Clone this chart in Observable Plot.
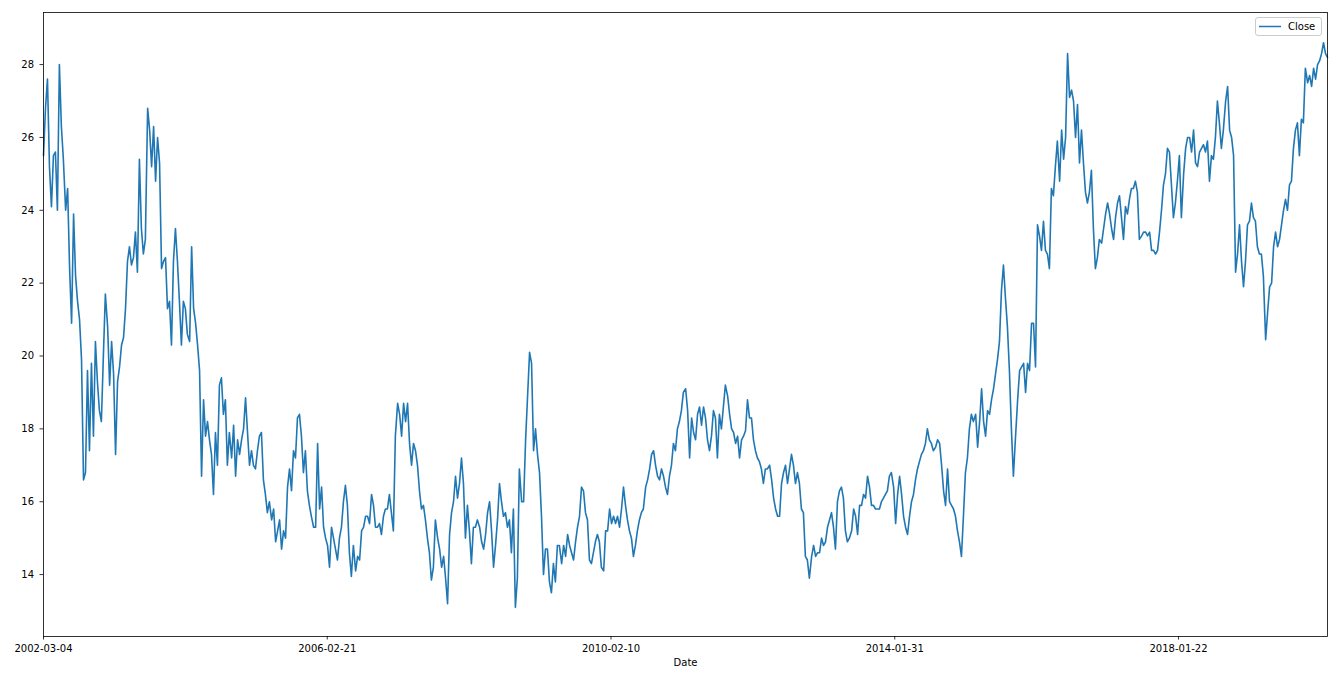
<!DOCTYPE html>
<html>
<head>
<meta charset="utf-8">
<script src="https://cdn.jsdelivr.net/npm/d3@7"></script>
<script src="https://cdn.jsdelivr.net/npm/@observablehq/plot@0.6"></script>
<style>
  html, body { margin: 0; padding: 0; background: #fff; }
  #wrap { position: relative; width: 1338px; height: 678px; }
  #legend {
    position: absolute; left: 1255px; top: 17px; width: 67px; height: 19px;
    box-sizing: border-box; border: 1px solid #cccccc; border-radius: 3px;
    background: rgba(255,255,255,0.8);
    font-family: "DejaVu Sans", sans-serif; font-size: 10px; color: #000;
  }
  #legend svg { position: absolute; left: 2px; top: 7px; }
  #legend span { position: absolute; left: 32px; top: 2px; line-height: 13px; }
</style>
</head>
<body>
<div id="wrap"></div>
<script>
// ---- data ----
const lastRow = 4525;                      // last row index of the series
const tickRows = [0, 1000, 2000, 3000, 4000];
const tickLabels = ["2002-03-04", "2006-02-21", "2010-02-10", "2014-01-31", "2018-01-22"];
const yTicks = [14, 16, 18, 20, 22, 24, 26, 28];
const seriesName = "Close";
// Close values, evenly spaced over rows 0..lastRow
const closeValues = [
  25.5, 26.8, 27.6, 25.2, 24.1, 25.5, 25.6, 24.0, 28.0, 26.3,
  25.4, 24.0, 24.6, 22.4, 20.9, 23.9, 22.2, 21.5, 21.0, 19.9,
  16.6, 16.8, 19.6, 17.4, 19.8, 17.8, 20.4, 19.3, 18.5, 18.2,
  20.0, 21.7, 20.8, 19.2, 20.4, 19.5, 17.3, 19.3, 19.7, 20.3,
  20.5, 21.3, 22.6, 23.0, 22.5, 22.7, 23.4, 22.3, 25.4, 23.5,
  22.8, 23.2, 26.8, 26.2, 25.2, 26.3, 24.8, 26.0, 25.3, 22.4,
  22.6, 22.7, 21.3, 21.5, 20.3, 22.6, 23.5, 22.6, 21.5, 20.3,
  21.5, 21.3, 20.6, 20.4, 23.0, 21.3, 20.9, 20.3, 19.6, 16.7,
  18.8, 17.8, 18.2, 17.7, 17.3, 16.2, 17.9, 17.0, 19.2, 19.4,
  18.4, 18.8, 17.0, 17.9, 17.2, 18.1, 16.7, 17.7, 17.3, 17.7,
  18.0, 18.85, 17.9, 17.0, 17.4, 17.0, 16.9, 17.4, 17.8, 17.9,
  16.6, 16.2, 15.7, 16.0, 15.5, 15.8, 14.9, 15.2, 15.5, 14.7,
  15.2, 15.0, 16.4, 16.9, 16.3, 17.4, 17.2, 18.3, 18.4, 17.8,
  16.8, 17.4, 16.3, 15.9, 15.6, 15.3, 15.3, 17.6, 15.8, 16.4,
  15.3, 15.0, 14.8, 14.2, 15.3, 15.0, 14.7, 14.4, 15.0, 15.3,
  16.0, 16.45, 15.9, 14.6, 13.95, 14.8, 14.1, 14.5, 14.4, 15.2,
  15.3, 15.6, 15.6, 15.4, 16.2, 15.9, 15.3, 15.3, 15.4, 15.1,
  15.6, 15.8, 15.8, 16.2, 15.7, 15.2, 17.8, 18.7, 18.4, 17.8,
  18.7, 18.2, 18.7, 17.6, 17.0, 17.6, 17.4, 17.0, 16.3, 15.8,
  15.9, 15.5, 15.0, 14.6, 13.85, 14.2, 15.5, 15.0, 14.7, 14.2,
  14.5, 13.9, 13.2, 15.1, 15.7, 16.0, 16.7, 16.1, 16.5, 17.2,
  16.5, 15.0, 15.9, 15.2, 14.3, 15.3, 15.3, 15.5, 15.3, 14.9,
  14.7, 15.1, 15.7, 16.0, 15.2, 14.2, 14.8, 15.5, 16.5, 16.0,
  15.6, 15.7, 15.3, 15.5, 14.6, 15.8, 13.1, 13.9, 16.9, 16.0,
  16.0, 17.7, 18.9, 20.1, 19.8, 17.4, 18.0, 17.3, 16.8, 15.6,
  14.0, 14.7, 14.7, 13.8, 13.5, 14.3, 13.8, 14.8, 14.8, 14.3,
  14.8, 14.5, 15.1, 14.8, 14.6, 14.4, 14.9, 15.3, 15.6, 16.4,
  16.3, 15.7, 15.5, 14.4, 14.3, 14.6, 14.9, 15.1, 14.9, 14.2,
  14.1, 15.2, 15.2, 15.8, 15.4, 15.6, 15.4, 15.6, 15.3, 15.8,
  16.4, 15.9, 15.5, 15.2, 15.0, 14.5, 14.8, 15.2, 15.5, 15.7,
  15.8, 16.4, 16.6, 16.9, 17.3, 17.4, 17.0, 16.7, 16.6, 16.9,
  16.7, 16.4, 16.2, 16.7, 17.0, 17.6, 17.4, 18.0, 18.2, 18.5,
  19.0, 19.1, 18.5, 17.2, 18.3, 17.9, 17.7, 18.4, 18.6, 18.1,
  18.6, 18.3, 17.7, 17.4, 17.8, 18.5, 18.3, 17.2, 18.4, 18.0,
  18.6, 19.2, 18.9, 18.4, 18.0, 17.9, 17.6, 17.8, 17.2, 17.7,
  17.8, 17.95, 18.8, 18.3, 18.3, 17.7, 17.4, 17.2, 17.1, 16.9,
  16.5, 16.9, 16.9, 17.0, 16.6, 16.1, 15.8, 15.6, 15.6, 16.5,
  16.8, 17.0, 16.5, 16.9, 17.3, 17.0, 16.5, 16.8, 16.5, 15.8,
  15.7, 14.5, 14.4, 13.9, 14.5, 14.8, 14.5, 14.6, 14.6, 15.0,
  14.8, 14.9, 15.3, 15.5, 15.7, 15.3, 14.7, 16.0, 16.3, 16.4,
  16.1, 15.2, 14.9, 15.0, 15.2, 15.8, 15.6, 15.1, 15.9, 15.9,
  16.2, 16.1, 16.7, 16.4, 15.9, 15.9, 15.8, 15.8, 15.8, 16.0,
  16.1, 16.2, 16.3, 16.7, 16.8, 16.4, 15.4, 16.2, 16.7, 16.2,
  15.6, 15.3, 15.1, 15.6, 16.0, 16.2, 16.6, 16.9, 17.1, 17.3,
  17.4, 17.6, 18.0, 17.7, 17.6, 17.4, 17.5, 17.7, 17.6, 17.0,
  16.3, 15.9, 16.9, 16.0, 15.9, 15.8, 15.6, 15.2, 14.9, 14.5,
  15.6, 16.8, 17.2, 18.0, 18.4, 18.2, 18.4, 17.5, 18.2, 19.1,
  18.2, 17.8, 18.5, 18.4, 18.8, 19.1, 19.5, 19.9, 20.4, 21.8,
  22.5, 21.6, 20.8, 19.6, 18.0, 16.7, 17.7, 18.8, 19.6, 19.7,
  19.8, 19.0, 19.8, 19.6, 20.9, 20.9, 19.7, 23.6, 23.3, 22.9,
  23.7, 22.9, 22.8, 22.4, 24.6, 24.4, 25.2, 25.9, 24.8, 26.2,
  25.4, 26.0, 28.3, 27.1, 27.3, 27.0, 26.0, 26.9, 25.3, 26.2,
  25.3, 24.5, 24.2, 24.5, 25.1, 23.5, 22.4, 22.7, 23.2, 23.1,
  23.5, 23.9, 24.2, 23.9, 23.5, 23.2, 23.8, 24.2, 24.4, 23.8,
  23.2, 24.1, 23.9, 24.3, 24.6, 24.6, 24.8, 24.5, 23.2, 23.3,
  23.4, 23.4, 23.3, 23.4, 22.9, 22.9, 22.8, 22.9, 23.4, 24.0,
  24.7, 25.0, 25.7, 25.6, 24.7, 23.8, 24.2, 24.8, 25.5, 23.8,
  25.0, 25.7, 26.0, 26.0, 25.6, 26.2, 25.3, 25.2, 25.6, 25.7,
  25.8, 25.6, 25.9, 24.8, 25.5, 25.4, 26.0, 27.0, 26.4, 25.7,
  26.2, 27.0, 27.4, 26.2, 26.0, 25.5, 22.3, 22.8, 23.6, 22.6,
  21.9, 22.6, 23.6, 23.7, 24.2, 23.8, 23.7, 23.0, 22.8, 22.8,
  22.2, 20.45, 21.2, 21.9, 22.0, 23.0, 23.4, 23.0, 23.2, 23.6,
  24.0, 24.3, 24.0, 24.7, 24.8, 25.7, 26.2, 26.4, 25.5, 26.5,
  26.4, 27.9, 27.5, 27.7, 27.4, 27.9, 27.6, 28.0, 28.1, 28.3,
  28.6, 28.3, 28.2
];

// table built from the arrays
const n = closeValues.length;
const rows = closeValues.map((v, k) => ({row: Math.round(k * lastRow / (n - 1)), close: v}));
const labelOf = new Map(tickRows.map((r, i) => [r, tickLabels[i]]));

const chart = Plot.plot({
  width: 1338,
  height: 678,
  marginLeft: 43,
  marginRight: 11,
  marginTop: 12,
  marginBottom: 42,
  style: {fontFamily: "DejaVu Sans, sans-serif", fontSize: "10px", color: "#000", background: "#fff"},
  x: {type: "linear", domain: [0, lastRow]},
  y: {domain: [12.30, 29.43]},
  marks: [
    Plot.line(rows, {x: "row", y: "close", stroke: "#1f77b4", strokeWidth: 1.6}),
    Plot.frame({stroke: "#000", strokeWidth: 0.8}),
    Plot.axisY({ticks: yTicks, tickSize: 3.5, tickPadding: 6, label: null, strokeWidth: 0.8}),
    Plot.axisX({ticks: tickRows, tickFormat: d => labelOf.get(d), tickSize: 3.5, tickPadding: 4.5,
                label: "Date", labelAnchor: "center", labelArrow: "none", labelOffset: 29, strokeWidth: 0.8})
  ]
});

const wrap = document.getElementById("wrap");
wrap.appendChild(chart);

// legend box (matplotlib style, inside the axes)
const lg = document.createElement("div");
lg.id = "legend";
lg.innerHTML = '<svg width="24" height="3"><line x1="1" y1="1.5" x2="23" y2="1.5" stroke="#1f77b4" stroke-width="1.5"/></svg><span></span>';
lg.querySelector("span").textContent = seriesName;
wrap.appendChild(lg);
</script>
</body>
</html>
